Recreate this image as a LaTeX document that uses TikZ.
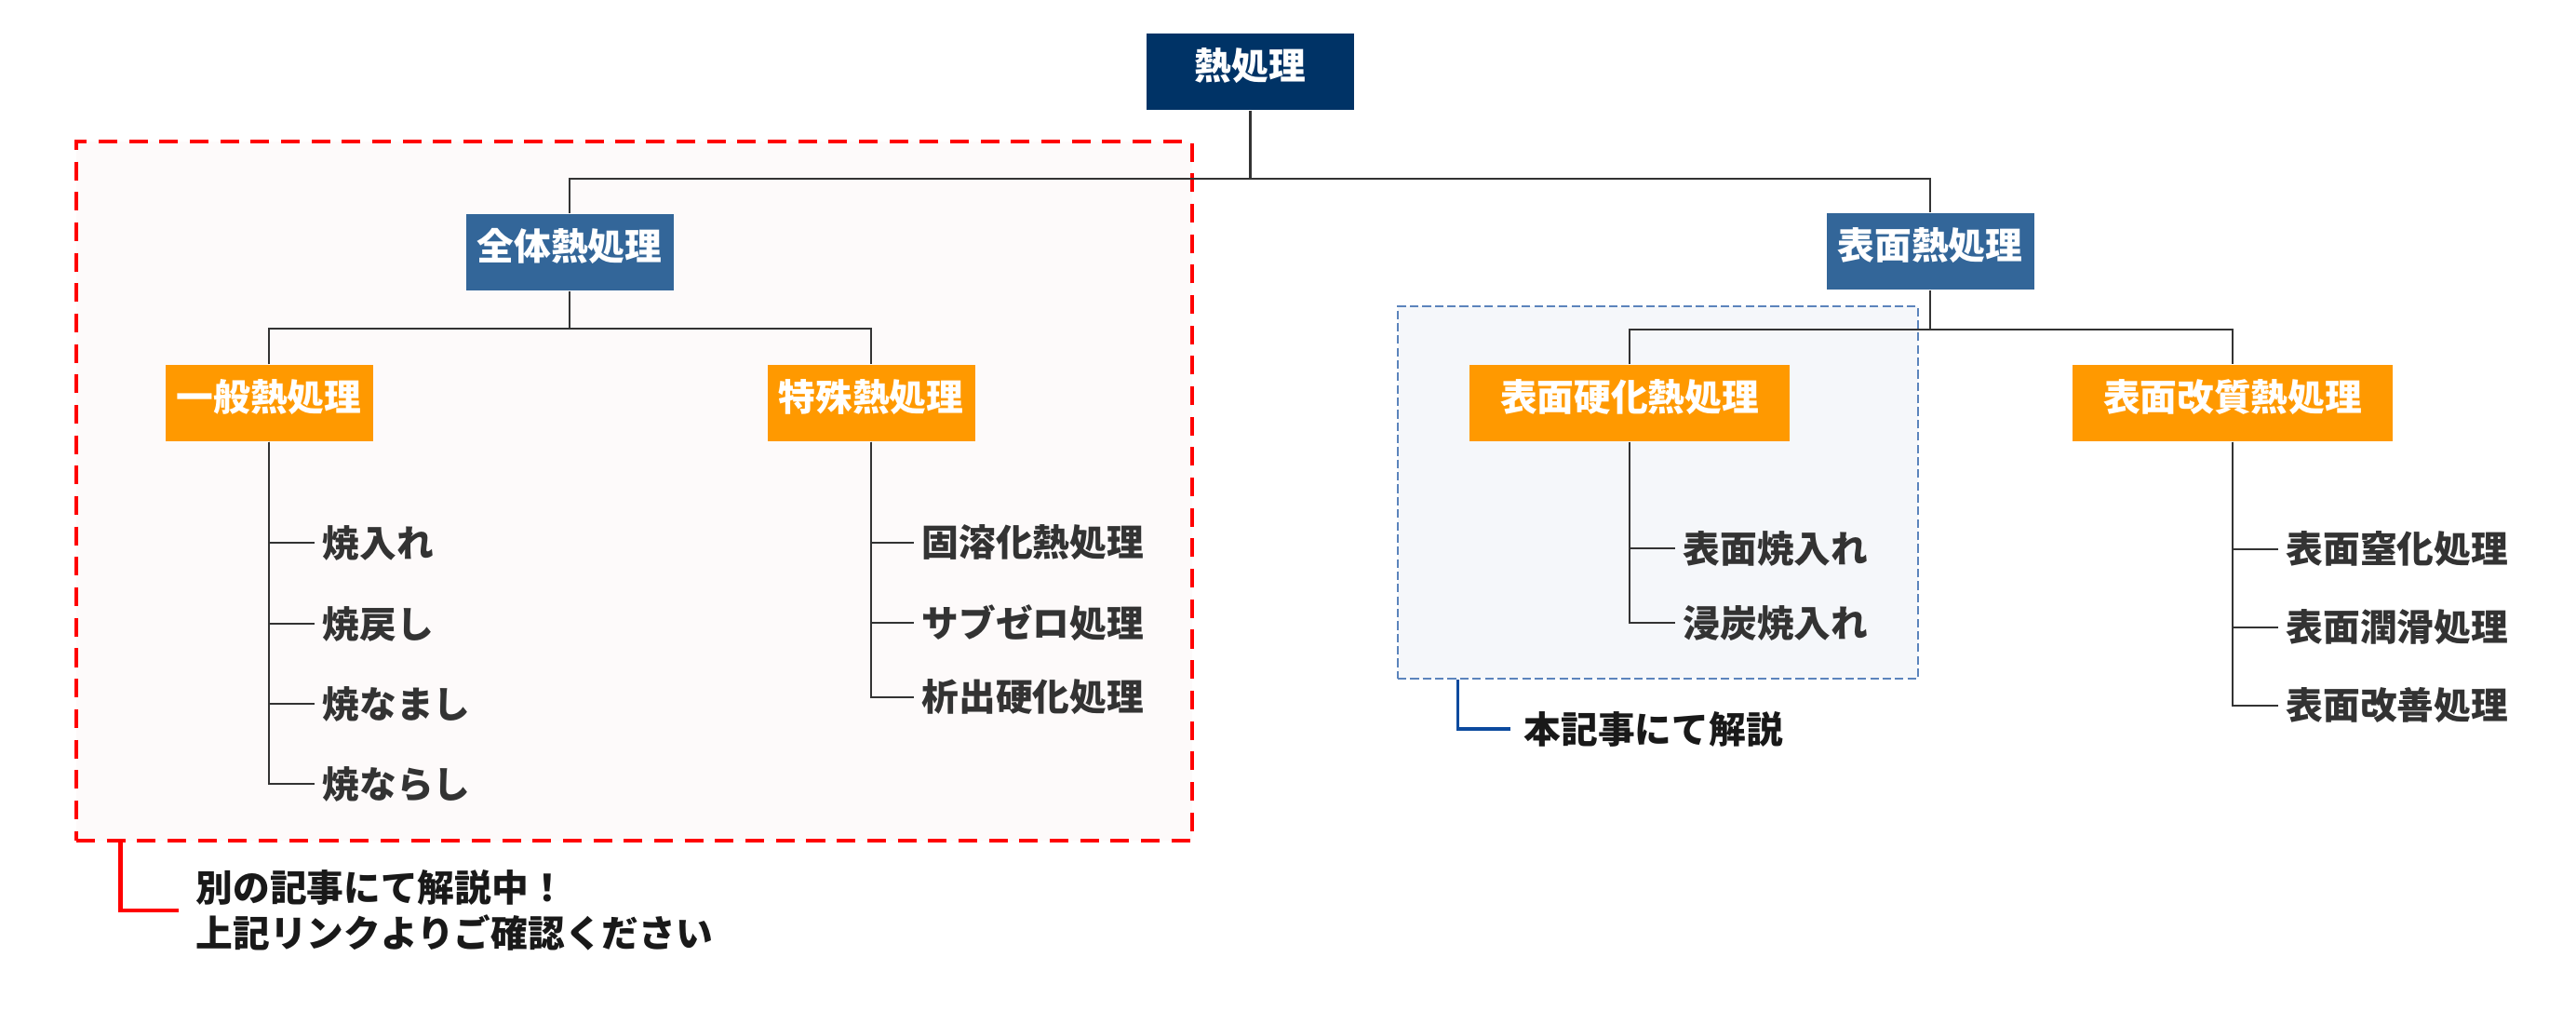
\documentclass[tikz,border=0pt]{standalone}
\usepackage{fontspec}
\setmainfont{Noto Sans CJK JP}
\usetikzlibrary{positioning}
\definecolor{navy}{HTML}{003366}
\definecolor{steel}{HTML}{336699}
\definecolor{amber}{HTML}{FF9900}
\definecolor{wire}{HTML}{333333}
\definecolor{redzone}{HTML}{FF0000}
\definecolor{redfill}{HTML}{FDFAFA}
\definecolor{bluezone}{HTML}{5B84BC}
\definecolor{bluefill}{HTML}{F5F7FA}
\definecolor{bluenote}{HTML}{0B4A9E}
\newcommand{\jpb}{\fontsize{11.3}{15}\selectfont\bfseries}
\tikzset{
  hb/.style={rectangle,text=white,minimum height=0.82cm,inner sep=0pt,text height=0.35cm,text depth=0.17cm,font=\jpb},
  rootb/.style={hb,fill=navy,minimum width=2.23cm},
  mb/.style={hb,fill=steel,minimum width=2.23cm},
  ob/.style={hb,fill=amber,minimum width=2.23cm},
  leaf/.style={anchor=west,inner xsep=0.08cm,inner ysep=0pt,text=wire,font=\jpb},
  conn/.style={draw=wire,line width=0.8pt},
  rzone/.style={rectangle,draw=redzone,fill=redfill,line width=1.35pt,dash pattern=on 5.7pt off 3.6pt},
  bzone/.style={rectangle,draw=bluezone,fill=bluefill,line width=0.65pt,dash pattern=on 2.6pt off 1.2pt},
  note/.style={anchor=west,align=left,inner xsep=0.08cm,text=black!90,font=\jpb},
}
\begin{document}
\begin{tikzpicture}
  \useasboundingbox (0,0) rectangle (27.68,-10.86);
  % zones behind the tree
  \node[rzone,minimum width=11.99cm,minimum height=7.51cm] (redbox) at (6.815,-5.275) {};
  \node[bzone,minimum width=5.59cm,minimum height=4.00cm] (bluebox) at (17.815,-5.29) {};

  \node[rootb] (root) at (13.435,-0.77) {熱処理};
  \node[mb] (zentai) at (6.12,-2.71) {全体熱処理};
  \node[mb] (hyomen) at (20.74,-2.70) {表面熱処理};
  \node[ob] (ippan) at (2.89,-4.33) {一般熱処理};
  \node[ob] (tokushu) at (9.36,-4.33) {特殊熱処理};
  \node[ob,minimum width=3.44cm] (koka) at (17.51,-4.33) {表面硬化熱処理};
  \node[ob,minimum width=3.44cm] (kaishitsu) at (23.99,-4.33) {表面改質熱処理};

  \coordinate (bus0) at (13.435,-1.92);
  \coordinate (bus1) at (6.12,-3.53);
  \coordinate (bus2) at (20.74,-3.54);
  \draw[conn] (root.south) -- (bus0);
  \draw[conn] (zentai.north) |- (bus0) -| (hyomen.north);
  \draw[conn] (zentai.south) -- (bus1);
  \draw[conn] (ippan.north) |- (bus1) -| (tokushu.north);
  \draw[conn] (hyomen.south) -- (bus2);
  \draw[conn] (koka.north) |- (bus2) -| (kaishitsu.north);

  % 一般熱処理
  \node[leaf] (yakiire) at (3.38,-5.83) {焼入れ};
  \node[leaf,below=0.87cm of yakiire.west,anchor=west] (yakimodoshi) {焼戻し};
  \node[leaf,below=0.86cm of yakimodoshi.west,anchor=west] (yakinamashi) {焼なまし};
  \node[leaf,below=0.86cm of yakinamashi.west,anchor=west] (yakinarashi) {焼ならし};
  \draw[conn] (ippan.south) |- (yakiire.west);
  \draw[conn] (ippan.south) |- (yakimodoshi.west);
  \draw[conn] (ippan.south) |- (yakinamashi.west);
  \draw[conn] (ippan.south) |- (yakinarashi.west);

  % 特殊熱処理
  \node[leaf] (koyoka) at (9.82,-5.83) {固溶化熱処理};
  \node[leaf,below=0.86cm of koyoka.west,anchor=west] (subzero) {サブゼロ処理};
  \node[leaf,below=0.80cm of subzero.west,anchor=west] (sekishutsu) {析出硬化処理};
  \draw[conn] (tokushu.south) |- (koyoka.west);
  \draw[conn] (tokushu.south) |- (subzero.west);
  \draw[conn] (tokushu.south) |- (sekishutsu.west);

  % 表面硬化熱処理
  \node[leaf] (hyoyaki) at (18.00,-5.89) {表面焼入れ};
  \node[leaf,below=0.80cm of hyoyaki.west,anchor=west] (shintan) {浸炭焼入れ};
  \draw[conn] (koka.south) |- (hyoyaki.west);
  \draw[conn] (koka.south) |- (shintan.west);

  % 表面改質熱処理
  \node[leaf] (chikka) at (24.48,-5.90) {表面窒化処理};
  \node[leaf,below=0.84cm of chikka.west,anchor=west] (junkatsu) {表面潤滑処理};
  \node[leaf,below=0.84cm of junkatsu.west,anchor=west] (kaizen) {表面改善処理};
  \draw[conn] (kaishitsu.south) |- (chikka.west);
  \draw[conn] (kaishitsu.south) |- (junkatsu.west);
  \draw[conn] (kaishitsu.south) |- (kaizen.west);

  % callouts
  \node[note] (note1) at (2.02,-9.78) {別の記事にて解説中！\\[-1pt]上記リンクよりご確認ください};
  \draw[draw=redzone,line width=1.35pt] ([xshift=0.5cm]redbox.south west) |- ([xshift=-0.1cm]note1.west);
  \node[note] (note2) at (16.29,-7.83) {本記事にて解説};
  \draw[draw=bluenote,line width=0.9pt] ([xshift=0.66cm]bluebox.south west) |- ([xshift=-0.06cm]note2.west);
\end{tikzpicture}
\end{document}
